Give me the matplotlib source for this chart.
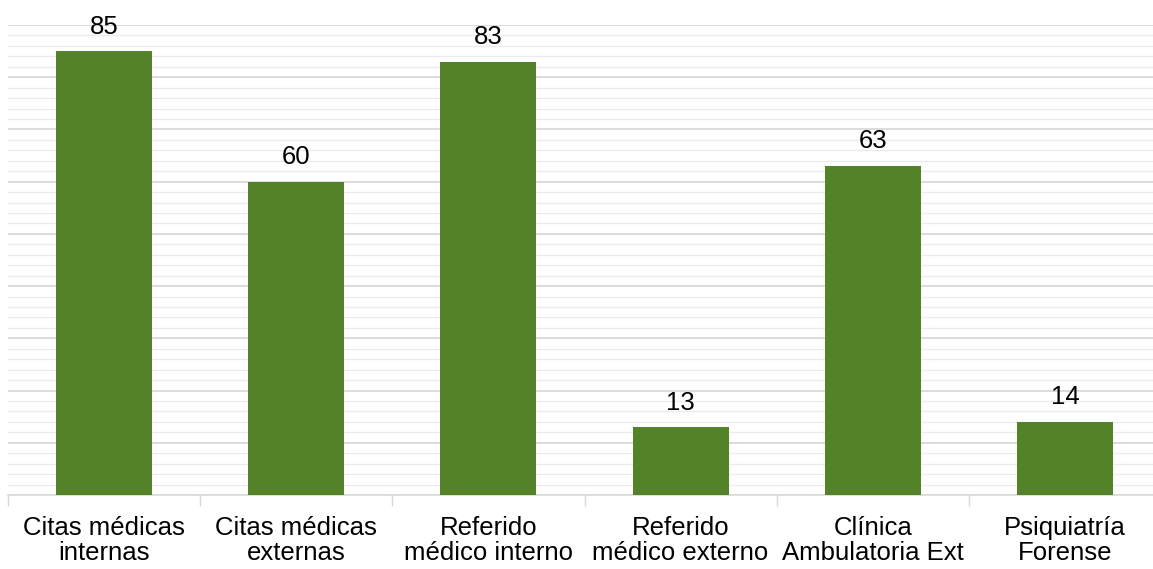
import numpy as np
import matplotlib
matplotlib.use('Agg')
import matplotlib.pyplot as plt
from matplotlib.ticker import MultipleLocator

# categories and counts
categories = ["Citas médicas\ninternas", "Citas médicas\nexternas", "Referido\nmédico interno",
              "Referido\nmédico externo", "Clínica\nAmbulatoria Ext", "Psiquiatría\nForense"]
values = [85, 60, 83, 13, 63, 14]

plt.rcParams['font.family'] = ['Liberation Sans', 'DejaVu Sans']

W, H = 1153, 569
fig = plt.figure(figsize=(W / 100, H / 100), dpi=100)
fig.patch.set_facecolor('white')
# plot area: left edge ~8px, baseline at y=495, top grid line at y=25
ax = fig.add_axes([8 / W, (H - 495) / H, 1153 / W, (495 - 25) / H])

x = np.arange(len(categories))
bars = ax.bar(x, values, width=0.5, color='#548228', zorder=3)

for b, v in zip(bars, values):
    ax.annotate(str(v), (b.get_x() + b.get_width() / 2, v), xytext=(0, 9),
                textcoords='offset points', ha='center', va='bottom',
                fontsize=18.5, color='black', zorder=4)

ax.set_xlim(-0.5, len(categories) - 0.5)
ax.set_ylim(0, 90)

# gridlines: darker every 10, light every 2
ax.yaxis.set_major_locator(MultipleLocator(10))
ax.yaxis.set_minor_locator(MultipleLocator(2))
ax.grid(axis='y', which='major', color='#d9d9d9', lw=1.3, zorder=0)
ax.grid(axis='y', which='minor', color='#ececec', lw=1.0, zorder=0)
ax.tick_params(axis='y', which='both', left=False, labelleft=False)

# category labels at centers, tick marks at boundaries
ax.set_xticks(x)
ax.set_xticklabels(categories, fontsize=18.5, linespacing=1.08)
ax.set_xticks(np.arange(-0.5, len(categories)), minor=True)
ax.tick_params(axis='x', which='major', length=0, pad=15)
ax.tick_params(axis='x', which='minor', length=8, width=1, color='#d9d9d9')

for s in ['top', 'right', 'left']:
    ax.spines[s].set_visible(False)
ax.spines['bottom'].set_color('#d9d9d9')
ax.spines['bottom'].set_linewidth(1.2)

fig.savefig('out.png', dpi=100, facecolor='white')
